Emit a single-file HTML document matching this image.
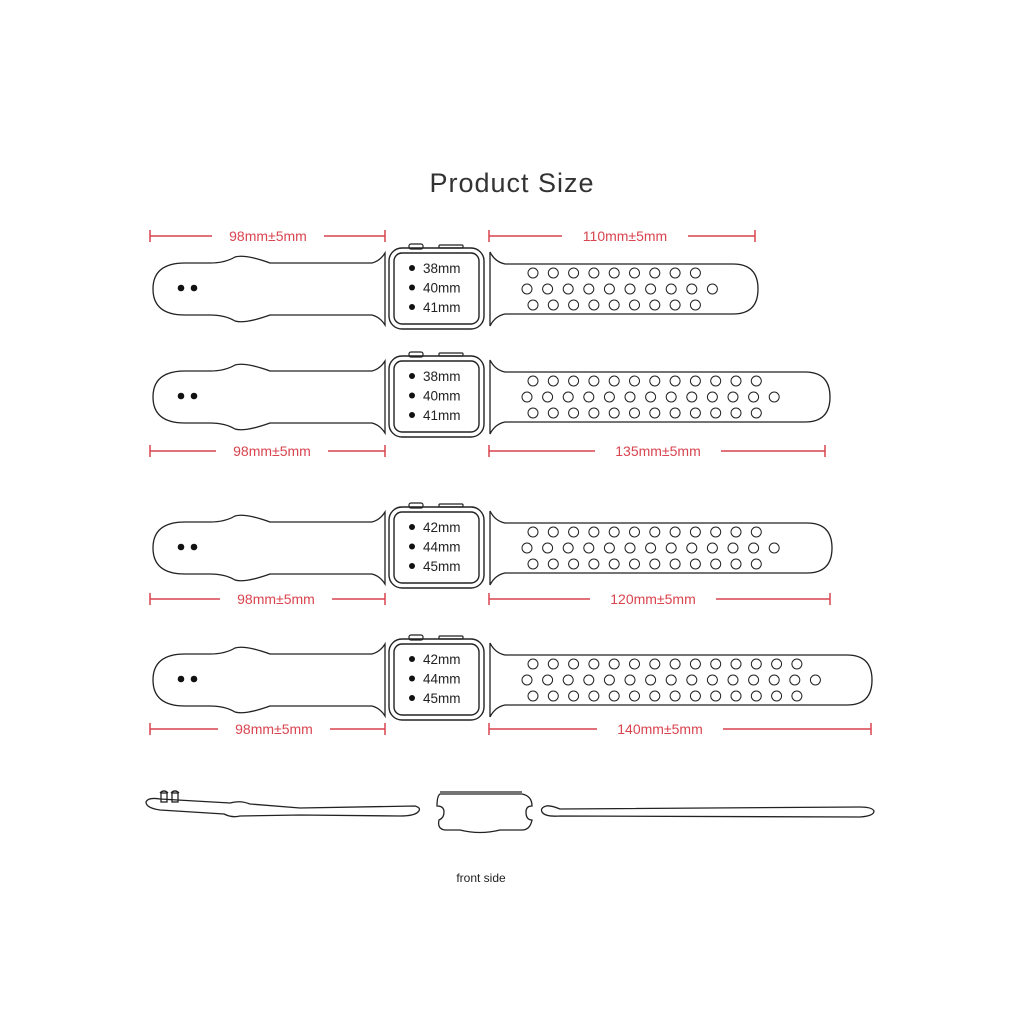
<!DOCTYPE html>
<html><head><meta charset="utf-8"><style>
html,body{margin:0;padding:0;background:#fff;width:1024px;height:1024px;overflow:hidden}
svg{display:block}
text{font-family:"Liberation Sans",sans-serif}
</style></head><body>
<svg id="s" width="1024" height="1024" viewBox="0 0 1024 1024" xmlns="http://www.w3.org/2000/svg">
<text x="512" y="192" text-anchor="middle" font-size="27" fill="#333" letter-spacing="1">Product Size</text>
<text x="481" y="882" text-anchor="middle" font-size="12" fill="#222">front side</text>
<g fill="none" stroke="#222" stroke-width="1.3">
<path d="M146 802 Q148 797 160 799 L230 803 Q240 800 250 804 L300 808 L415 806 Q422 808 418 812 Q414 816 400 816 L300 815 L240 816 Q232 818 224 814 L160 810 Q146 808 146 802 Z"/>
<rect x="161" y="793" width="6" height="9"/><rect x="172" y="793" width="6" height="9"/>
<path d="M160 793 Q164 789 168 793 M171 793 Q175 789 179 793"/>
<path d="M440 794 L522 794 Q532 796 532 806 Q526 806 526 812 Q526 820 532 820 Q530 830 522 830 L500 830 Q480 835 460 830 L445 830 Q437 829 439 820 Q444 818 444 812 Q444 806 437 806 Q437 796 440 794 Z"/>
<path d="M440 792 L522 792"/>
<path d="M546 806 Q540 808 542 812 Q545 817 560 816 L860 817 Q874 816 874 811 Q872 807 860 807 L560 809 Q550 805 546 806 Z"/>
</g>
<g id="rows"></g>
</svg>
<script>
var rows=[
 {cy:289,sz:["38mm","40mm","41mm"],dimY:236,rEnd:758,dimR:755,top:9,lab:"110mm±5mm",lx:625,llab:268},
 {cy:397,sz:["38mm","40mm","41mm"],dimY:451,rEnd:830,dimR:825,top:12,lab:"135mm±5mm",lx:658,llab:272},
 {cy:548,sz:["42mm","44mm","45mm"],dimY:599,rEnd:832,dimR:830,top:12,lab:"120mm±5mm",lx:653,llab:276},
 {cy:680,sz:["42mm","44mm","45mm"],dimY:729,rEnd:872,dimR:871,top:14,lab:"140mm±5mm",lx:660,llab:274}
];
var h='';
rows.forEach(function(r){
 var c=r.cy;
 // left strap
 h+='<path fill="none" stroke="#222" stroke-width="1.3" d="M185 '+(c-26)+' L210 '+(c-26)+' Q225 '+(c-26)+' 235 '+(c-32)+' Q245 '+(c-35)+' 270 '+(c-26)+' L372 '+(c-26)+' Q380 '+(c-28)+' 385 '+(c-36)+' L385 '+(c+36)+' Q380 '+(c+28)+' 372 '+(c+26)+' L270 '+(c+26)+' Q245 '+(c+35)+' 235 '+(c+32)+' Q225 '+(c+26)+' 210 '+(c+26)+' L185 '+(c+26)+' Q153 '+(c+26)+' 153 '+c+' Q153 '+(c-26)+' 185 '+(c-26)+' Z"/>';
 h+='<circle cx="181" cy="'+(c-1)+'" r="3.3" fill="#111"/><circle cx="194" cy="'+(c-1)+'" r="3.3" fill="#111"/>';
 // watch
 h+='<rect x="389" y="'+(c-41)+'" width="95" height="81" rx="13" fill="none" stroke="#222" stroke-width="1.4"/>';
 h+='<rect x="394" y="'+(c-36)+'" width="85" height="71" rx="8" fill="none" stroke="#222" stroke-width="1.4"/>';
 h+='<rect x="409" y="'+(c-45)+'" width="14" height="5" rx="2" fill="none" stroke="#222" stroke-width="1.2"/>';
 h+='<rect x="439" y="'+(c-44)+'" width="24" height="3" rx="1" fill="none" stroke="#222" stroke-width="1.2"/>';
 r.sz.forEach(function(t,i){var y=c-21+i*19.5;
  h+='<circle cx="412" cy="'+y+'" r="3" fill="#111"/><text x="423" y="'+(y+5)+'" font-size="13.5" fill="#222">'+t+'</text>';});
 // right strap
 var e=r.rEnd;
 h+='<path fill="none" stroke="#222" stroke-width="1.3" d="M490 '+(c-37)+' Q495 '+(c-27)+' 505 '+(c-25)+' L'+(e-25)+' '+(c-25)+' Q'+e+' '+(c-25)+' '+e+' '+c+' Q'+e+' '+(c+25)+' '+(e-25)+' '+(c+25)+' L505 '+(c+25)+' Q495 '+(c+27)+' 490 '+(c+37)+' Z"/>';
 for(var i=0;i<r.top;i++){var x=533+i*20.3;
  h+='<circle cx="'+x+'" cy="'+(c-16)+'" r="5" fill="none" stroke="#222" stroke-width="1"/>';
  h+='<circle cx="'+x+'" cy="'+(c+16)+'" r="5" fill="none" stroke="#222" stroke-width="1"/>';}
 for(var i=0;i<=r.top;i++){var x=527+i*20.6;
  h+='<circle cx="'+x+'" cy="'+c+'" r="5" fill="none" stroke="#222" stroke-width="1"/>';}
 // dims
 var d=r.dimY,red="#d9444f";
 h+='<g stroke="'+red+'" stroke-width="1.5"><line x1="150" y1="'+(d-6)+'" x2="150" y2="'+(d+6)+'"/><line x1="385" y1="'+(d-6)+'" x2="385" y2="'+(d+6)+'"/><line x1="150" y1="'+d+'" x2="'+(r.llab-56)+'" y2="'+d+'"/><line x1="'+(r.llab+56)+'" y1="'+d+'" x2="385" y2="'+d+'"/>';
 h+='<line x1="489" y1="'+(d-6)+'" x2="489" y2="'+(d+6)+'"/><line x1="'+r.dimR+'" y1="'+(d-6)+'" x2="'+r.dimR+'" y2="'+(d+6)+'"/><line x1="489" y1="'+d+'" x2="'+(r.lx-63)+'" y2="'+d+'"/><line x1="'+(r.lx+63)+'" y1="'+d+'" x2="'+r.dimR+'" y2="'+d+'"/></g>';
 h+='<text x="'+r.llab+'" y="'+(d+5)+'" text-anchor="middle" font-size="14" fill="'+red+'">98mm±5mm</text>';
 h+='<text x="'+r.lx+'" y="'+(d+5)+'" text-anchor="middle" font-size="14" fill="'+red+'">'+r.lab+'</text>';
});
document.getElementById('rows').innerHTML=h;
</script>
</body></html>
